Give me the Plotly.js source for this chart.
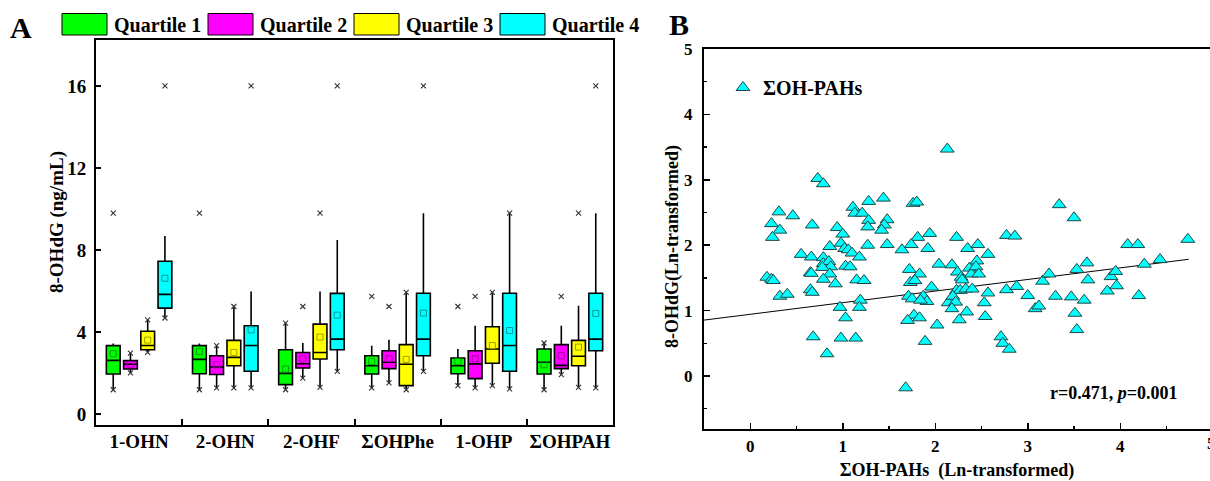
<!DOCTYPE html>
<html><head><meta charset="utf-8">
<script src="https://cdn.plot.ly/plotly-3.0.1.min.js"></script>
<style>html,body{margin:0;padding:0;background:#fff}#chart{width:1210px;height:481px}</style>
</head><body><div id="chart"></div>
<script>
// ---------- Panel A data ----------
const categories = ['1-OHN', '2-OHN', '2-OHF', 'ΣOHPhe', '1-OHP', 'ΣOHPAH'];
const quartileNames = ['Quartile 1', 'Quartile 2', 'Quartile 3', 'Quartile 4'];

// one row per quartile, one value per category
const lowerWhisker = [
  [1.18, 1.18, 1.18, 1.27, 1.38, 1.18],
  [2.00, 1.27, 1.75, 1.51, 1.27, 1.92],
  [3.00, 1.27, 1.30, 1.18, 1.38, 1.30],
  [4.68, 1.27, 2.08, 2.08, 1.22, 1.27]
];
const firstQuartile = [
  [1.95, 1.96, 1.43, 1.95, 1.96, 1.95],
  [2.19, 1.92, 2.24, 2.21, 1.72, 2.21],
  [3.13, 2.35, 2.68, 1.38, 2.47, 2.35],
  [5.16, 2.08, 3.13, 2.84, 2.08, 3.08]
];
const medianVals = [
  [2.61, 2.66, 1.98, 2.35, 2.35, 2.52],
  [2.42, 2.29, 2.45, 2.52, 2.44, 2.37],
  [3.34, 2.76, 3.00, 2.42, 3.17, 2.81],
  [5.83, 3.34, 3.65, 3.65, 3.34, 3.65]
];
const thirdQuartile = [
  [3.33, 3.33, 3.13, 2.84, 2.73, 3.17],
  [2.60, 2.84, 3.00, 3.08, 3.08, 3.38],
  [4.03, 3.59, 4.38, 3.38, 4.25, 3.59],
  [7.45, 4.30, 5.88, 5.89, 5.89, 5.89]
];
const upperWhisker = [
  [3.44, 3.44, 4.43, 3.33, 3.17, 3.46],
  [2.97, 3.33, 3.46, 3.62, 4.30, 4.30],
  [4.59, 5.24, 5.97, 5.93, 5.93, 5.28],
  [8.68, 5.97, 8.49, 9.79, 9.79, 9.79]
];
const meanVals = [
  [2.94, 3.04, 2.19, 2.56, 2.55, 2.40],
  [2.42, 2.39, 2.69, 2.69, 2.69, 2.84],
  [3.60, 3.00, 3.75, 2.66, 3.34, 3.26],
  [6.62, 4.10, 4.82, 4.92, 4.07, 4.90]
];
const maxVals = [
  [9.79, 9.79, 4.43, 5.73, 5.24, 3.46],
  [2.97, 3.33, 5.24, 5.24, 5.73, 5.73],
  [4.59, 5.24, 9.79, 5.93, 5.93, 9.79],
  [16.0, 16.0, 16.0, 16.0, 9.79, 16.0]
];
const yTicksA = [0, 4, 8, 12, 16];
const yTitleA = '8-OHdG (ng/mL)';

// ---------- Panel B data ----------
const ohPahX = [0.73,0.79,2.13,1.44,1.28,1.11,1.13,1.21,1.28,1.27,1.48,1.45,1.42,1.76,1.80,1.94,1.81,2.23,2.77,2.86,3.34,3.50,4.73,0.23,0.31,0.46,0.32,0.67,0.94,1.00,0.24,
  0.86,0.98,1.02,1.06,1.10,1.27,1.48,1.64,1.74,1.92,2.35,2.46,2.57,4.08,4.19,0.55,0.66,0.79,1.18,0.79,0.85,0.87,0.78,1.03,1.08,0.65,0.66,0.86,0.79,0.18,0.23,0.25,0.92,1.15,1.23,
  1.72,1.83,1.73,1.78,2.04,2.18,2.24,2.37,2.39,2.45,2.44,2.47,2.28,2.29,1.96,2.23,2.27,2.33,2.40,2.57,2.77,2.88,3.00,3.16,3.23,3.30,3.47,3.53,3.64,3.65,3.61,3.86,3.90,3.95,3.96,4.20,4.26,4.43,
  0.32,0.40,0.65,0.67,0.97,1.03,1.19,1.18,0.98,1.14,0.68,0.83,1.71,1.75,1.87,1.91,1.84,1.77,1.70,1.83,2.02,1.89,2.14,2.19,2.22,2.18,2.34,2.26,2.53,2.54,2.71,2.73,2.80,3.08,3.12,3.51,3.53,1.68];
const ohdgY = [3.02,2.94,3.47,2.72,2.67,2.58,2.49,2.49,2.38,2.28,2.39,2.31,2.23,2.64,2.66,2.18,2.12,2.12,2.15,2.14,2.62,2.42,2.09,2.33,2.51,2.45,2.23,2.31,2.27,2.17,2.12,
  1.98,2.03,1.95,1.93,1.88,2.00,2.01,1.93,2.01,1.95,1.95,2.01,1.86,2.01,2.01,1.86,1.82,1.81,1.82,1.72,1.75,1.67,1.66,1.68,1.67,1.58,1.57,1.56,1.48,1.51,1.48,1.46,1.41,1.47,1.46,
  1.63,1.56,1.43,1.46,1.71,1.70,1.59,1.65,1.56,1.76,1.67,1.56,1.51,1.47,1.36,1.31,1.31,1.33,1.33,1.27,1.32,1.37,1.23,1.45,1.56,1.22,1.21,1.63,1.73,1.47,1.16,1.30,1.52,1.60,1.38,1.23,1.71,1.78,
  1.22,1.25,1.32,1.28,1.05,0.89,1.16,1.05,0.58,0.58,0.60,0.34,1.22,1.18,1.22,1.14,1.16,0.93,0.85,0.89,0.78,0.53,1.12,1.22,1.13,1.03,0.98,0.86,1.12,0.91,0.60,0.50,0.41,1.03,1.07,0.96,0.71,-0.18];
const fitX = [-0.5, 4.74];
const fitY = [0.855, 1.785];
const statText = 'r=0.471, <i>p</i>=0.001';
const xTitleB = 'ΣOH-PAHs  (Ln-transformed)';
const yTitleB = '8-OHdG(Ln-transformed)';

// ---------- styling ----------
const W = 1210, H = 481;
const px = v => v / W, py = v => 1 - v / H;
const FONT = 'Liberation Serif, Times New Roman, serif';
const fills = ['#00FF00', '#FF00FF', '#FFFF00', '#00FFFF'];
const meanColors = ['#00A000', '#A000A0', '#A0A000', '#009999'];
const offsets = [-0.3, -0.1, 0.1, 0.3];

const traces = [];
quartileNames.forEach((name, k) => {
  const pos = categories.map((c, i) => i + offsets[k]);
  traces.push({
    type: 'box', name: name, x: pos,
    q1: firstQuartile[k], median: medianVals[k], q3: thirdQuartile[k],
    lowerfence: lowerWhisker[k], upperfence: upperWhisker[k],
    width: 0.16, whiskerwidth: 0, boxpoints: false,
    fillcolor: fills[k], line: { color: '#000', width: 1.6 },
    showlegend: false, xaxis: 'x', yaxis: 'y', hoverinfo: 'skip'
  });
  traces.push({
    type: 'scatter', mode: 'markers', x: pos, y: meanVals[k],
    marker: { symbol: 'square-open', size: 6, color: meanColors[k], line: { width: 1, color: meanColors[k] } },
    showlegend: false, xaxis: 'x', yaxis: 'y', hoverinfo: 'skip', cliponaxis: false
  });
  traces.push({
    type: 'scatter', mode: 'markers', x: pos.concat(pos), y: lowerWhisker[k].concat(maxVals[k]),
    marker: { symbol: 'x-thin-open', size: 5, color: '#333', line: { width: 1.1, color: '#333' } },
    showlegend: false, xaxis: 'x', yaxis: 'y', hoverinfo: 'skip', cliponaxis: false
  });
});

traces.push({
  type: 'scatter', mode: 'lines', x: fitX, y: fitY,
  line: { color: '#000', width: 1 }, showlegend: false, xaxis: 'x2', yaxis: 'y2', hoverinfo: 'skip'
});
traces.push({
  type: 'scatter', mode: 'markers', name: 'ΣOH-PAHs', x: ohPahX, y: ohdgY,
  marker: { symbol: 'triangle-up', size: 12, color: '#00FFFF', line: { color: '#1d4545', width: 1 } },
  xaxis: 'x2', yaxis: 'y2', hoverinfo: 'skip'
});

const tickFont = s => ({ family: FONT, size: s, color: '#000', weight: 'bold' });

const shapes = [];
const annotations = [];
const legendBoxes = [[62, 107], [208, 253], [354, 399], [500, 545]];
quartileNames.forEach((name, k) => {
  shapes.push({
    type: 'rect', xref: 'paper', yref: 'paper',
    x0: px(legendBoxes[k][0]), x1: px(legendBoxes[k][1]), y0: py(35), y1: py(13.5),
    fillcolor: fills[k], line: { color: '#000', width: 1 }
  });
  annotations.push({
    xref: 'paper', yref: 'paper', x: px(legendBoxes[k][1] + 5), y: py(25),
    xanchor: 'left', yanchor: 'middle', showarrow: false, text: name, font: tickFont(20)
  });
});
annotations.push({ xref: 'paper', yref: 'paper', x: px(21), y: py(27), xanchor: 'center', yanchor: 'middle',
  showarrow: false, text: 'A', font: tickFont(30) });
annotations.push({ xref: 'paper', yref: 'paper', x: px(679), y: py(24), xanchor: 'center', yanchor: 'middle',
  showarrow: false, text: 'B', font: tickFont(30) });
annotations.push({ xref: 'paper', yref: 'paper', x: px(1114), y: py(393), xanchor: 'center', yanchor: 'middle',
  showarrow: false, text: statText, font: tickFont(18) });
annotations.push({ xref: 'paper', yref: 'paper', x: px(57), y: py(222), xanchor: 'center', yanchor: 'middle',
  textangle: -90, showarrow: false, text: yTitleA, font: tickFont(19) });
annotations.push({ xref: 'paper', yref: 'paper', x: px(672), y: py(247), xanchor: 'center', yanchor: 'middle',
  textangle: -90, showarrow: false, text: yTitleB, font: tickFont(18) });
annotations.push({ xref: 'paper', yref: 'paper', x: px(1211), y: py(443), xanchor: 'center', yanchor: 'middle',
  showarrow: false, text: '5', font: tickFont(17) });

const layout = {
  width: W, height: H,
  margin: { l: 0, r: 0, t: 0, b: 0, autoexpand: false },
  paper_bgcolor: '#fff', plot_bgcolor: '#fff',
  boxmode: 'overlay',
  showlegend: true,
  legend: { x: px(723), y: py(68), xanchor: 'left', yanchor: 'top', font: tickFont(20),
    bgcolor: 'rgba(0,0,0,0)', borderwidth: 0 },
  xaxis: {
    domain: [px(96), px(613)], range: [-0.5, 5.5], anchor: 'y', automargin: false,
    tickmode: 'array', tickvals: categories.map((c, i) => i), ticktext: categories,
    ticks: '', showline: true, linewidth: 2, linecolor: '#000', mirror: true,
    showgrid: false, zeroline: false, tickfont: tickFont(19), ticklabelstandoff: -2,
    minor: { tickmode: 'array', tickvals: categories.slice(1).map((c, i) => i + 0.5),
      ticks: 'inside', ticklen: 6, tickwidth: 2, tickcolor: '#000', showgrid: false }
  },
  yaxis: {
    domain: [py(425), py(40)], range: [-0.54, 18.24], anchor: 'x', automargin: false,
    tickmode: 'array', tickvals: yTicksA, ticks: 'inside', ticklen: 5, tickwidth: 2, tickcolor: '#000',
    showline: true, linewidth: 2, linecolor: '#000', mirror: true,
    showgrid: false, zeroline: false, tickfont: tickFont(19), ticklabelstandoff: 4
  },
  xaxis2: {
    domain: [px(704), 1], range: [-0.5, 4.97], anchor: 'y2', automargin: false,
    tickmode: 'linear', tick0: 0, dtick: 1, ticks: 'inside', ticklen: 6, tickwidth: 1.5, tickcolor: '#000',
    minor: { tickmode: 'linear', tick0: 0, dtick: 0.5, ticks: 'inside', ticklen: 3, tickwidth: 1.5, tickcolor: '#000', showgrid: false },
    showline: true, linewidth: 2, linecolor: '#000', mirror: true,
    showgrid: false, zeroline: false, tickfont: tickFont(17), ticklabelstandoff: 1,
    title: { text: xTitleB, font: tickFont(18), standoff: 12 }
  },
  yaxis2: {
    domain: [py(429), py(49)], range: [-0.81, 5], anchor: 'x2', automargin: false,
    tickmode: 'linear', tick0: 0, dtick: 1, ticks: 'inside', ticklen: 6, tickwidth: 1.5, tickcolor: '#000',
    minor: { tickmode: 'linear', tick0: 0, dtick: 0.5, ticks: 'inside', ticklen: 3, tickwidth: 1.5, tickcolor: '#000', showgrid: false },
    showline: true, linewidth: 2, linecolor: '#000', mirror: false,
    showgrid: false, zeroline: false, tickfont: tickFont(17), ticklabelstandoff: 6
  },
  shapes: shapes,
  annotations: annotations
};

Plotly.newPlot('chart', traces, layout, { staticPlot: true, displayModeBar: false });
</script>
</body></html>
